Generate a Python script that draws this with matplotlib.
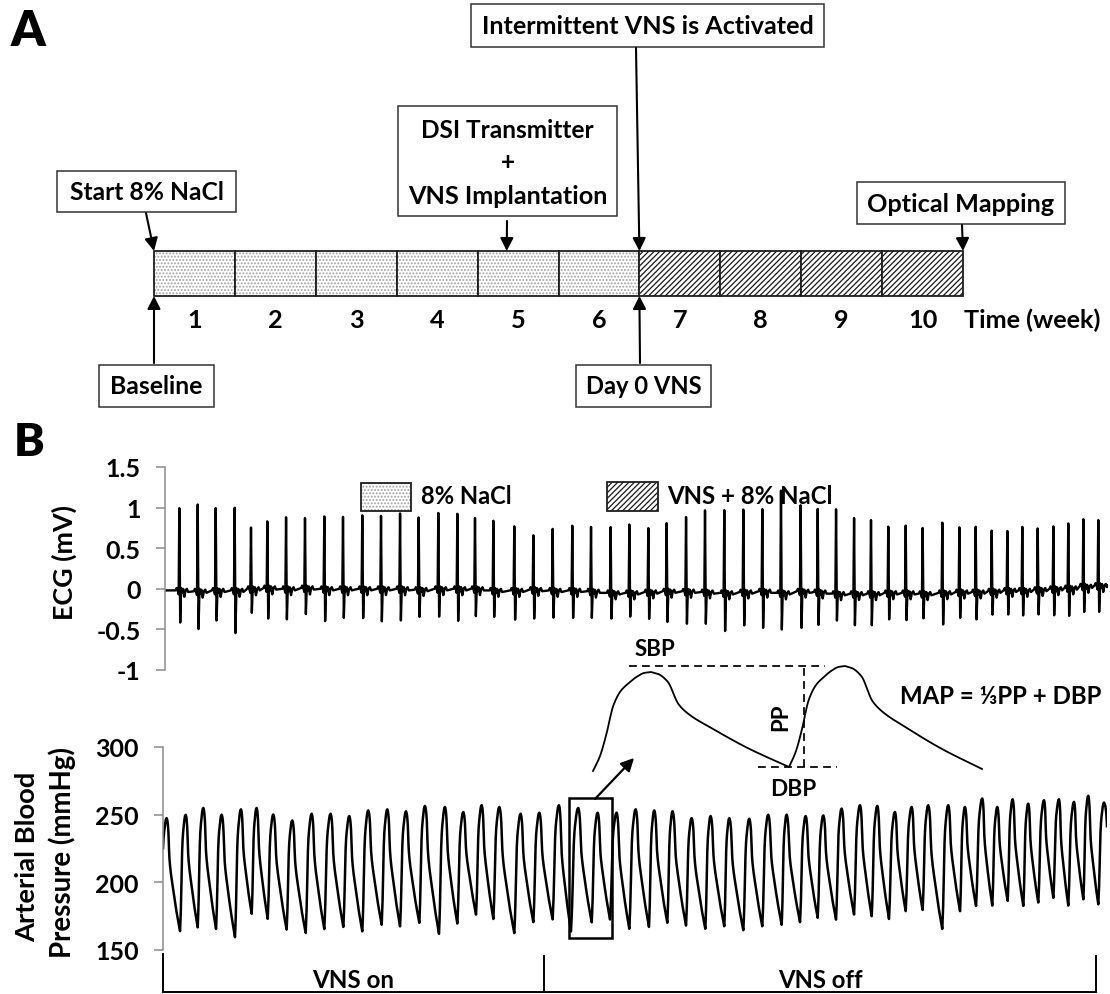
import numpy as np
import matplotlib
matplotlib.use("Agg")
import matplotlib.pyplot as plt
import matplotlib.transforms as mtransforms
from matplotlib.patches import Rectangle

plt.rcParams["font.family"] = ["Lato", "DejaVu Sans"]
plt.rcParams["font.weight"] = "bold"
plt.rcParams["axes.unicode_minus"] = False
plt.rcParams["hatch.linewidth"] = 0.9

# ====================== DATA ======================
# Panel A: study timeline
weeks = [1, 2, 3, 4, 5, 6, 7, 8, 9, 10]
week_treatment = ["8% NaCl"] * 6 + ["VNS + 8% NaCl"] * 4
treatments = ["8% NaCl", "VNS + 8% NaCl"]
events_top = ["Start 8% NaCl", "DSI Transmitter\n+\nVNS Implantation",
              "Intermittent VNS is Activated", "Optical Mapping"]
events_top_week = [0.0, 4.36, 6.0, 10.0]
events_bottom = ["Baseline", "Day 0 VNS"]
events_bottom_week = [0.0, 6.0]

# Panel B: ECG (R-wave time [s], R and S amplitudes [mV], local baseline [mV])
ecg_r_time = [0.139, 0.295, 0.448, 0.609, 0.748, 0.887, 1.046, 1.207, 1.371, 1.530,
              1.694, 1.853, 2.015, 2.173, 2.340, 2.502, 2.652, 2.808, 2.986, 3.148,
              3.312, 3.479, 3.638, 3.805, 3.964, 4.125, 4.281, 4.446, 4.607, 4.771,
              4.933, 5.094, 5.253, 5.420, 5.565, 5.721, 5.874, 6.018, 6.165, 6.313,
              6.457, 6.624, 6.769, 6.908, 7.044, 7.177, 7.304, 7.435, 7.568, 7.695,
              7.823, 7.950]
ecg_r_mv = [1.04, 1.05, 1.02, 1.04, 0.76, 0.87, 0.89, 0.89, 0.93, 0.89,
            0.93, 0.93, 0.93, 0.91, 0.96, 0.93, 0.91, 0.85, 0.78, 0.69,
            0.75, 0.79, 0.80, 0.77, 0.81, 0.78, 0.81, 0.91, 1.00, 0.97,
            1.01, 1.01, 1.22, 1.07, 1.00, 1.00, 0.91, 0.85, 0.80, 0.79,
            0.77, 0.85, 0.76, 0.80, 0.72, 0.74, 0.77, 0.77, 0.78, 0.83,
            0.87, 0.87]
ecg_s_mv = [-0.43, -0.50, -0.41, -0.56, -0.30, -0.38, -0.38, -0.33, -0.41, -0.36,
            -0.38, -0.41, -0.39, -0.36, -0.35, -0.40, -0.35, -0.35, -0.39, -0.38,
            -0.36, -0.37, -0.37, -0.37, -0.36, -0.38, -0.41, -0.45, -0.44, -0.52,
            -0.47, -0.49, -0.51, -0.50, -0.45, -0.41, -0.46, -0.45, -0.39, -0.39,
            -0.38, -0.45, -0.36, -0.39, -0.32, -0.33, -0.33, -0.33, -0.33, -0.35,
            -0.29, -0.30]
ecg_base_mv = [-0.02, -0.03, -0.02, -0.02, 0.00, 0.01, 0.00, 0.01, 0.00, 0.00,
               0.00, 0.00, 0.00, -0.01, 0.00, 0.00, 0.00, -0.02, -0.02, -0.01,
               -0.02, -0.02, -0.03, -0.05, -0.05, -0.04, -0.03, -0.03, -0.04, -0.05,
               -0.04, -0.03, -0.05, -0.03, -0.04, -0.06, -0.06, -0.06, -0.05, -0.05,
               -0.06, -0.05, -0.04, -0.04, -0.03, -0.02, -0.02, -0.01, 0.00, 0.01,
               0.03, 0.04]
ecg_ticks = [-1, -0.5, 0, 0.5, 1, 1.5]
ecg_tick_labels = ["-1", "-0.5", "0", "0.5", "1", "1.5"]

# Panel B: arterial blood pressure (diastolic troughs and systolic peaks)
bp_trough_time = [-0.020,
                  0.145, 0.295, 0.451, 0.612, 0.754, 0.890, 1.051, 1.213, 1.371, 1.533,
                  1.694, 1.859, 2.015, 2.179, 2.346, 2.502, 2.661, 2.808, 2.986, 3.148,
                  3.312, 3.468, 3.644, 3.800, 3.964, 4.131, 4.287, 4.446, 4.610, 4.771,
                  4.933, 5.094, 5.259, 5.415, 5.565, 5.721, 5.874, 6.024, 6.171, 6.313,
                  6.457, 6.624, 6.775, 6.911, 7.049, 7.180, 7.313, 7.440, 7.568, 7.695,
                  7.823, 7.950,
                  8.150]
bp_trough_mmhg = [168.0,
                  163.7, 166.7, 165.4, 159.4, 176.6, 172.9, 164.9, 162.4, 165.4, 166.9,
                  163.7, 168.6, 167.4, 169.9, 161.9, 169.4, 176.1, 172.9, 162.4, 170.4,
                  172.4, 163.7, 170.4, 172.4, 165.4, 166.9, 169.9, 167.9, 165.4, 167.4,
                  164.4, 167.4, 168.6, 170.4, 173.6, 172.4, 176.1, 174.9, 172.9, 178.6,
                  179.3, 165.4, 178.6, 182.3, 182.8, 186.1, 182.3, 184.8, 188.5, 182.8,
                  187.3, 183.6,
                  185.0]
bp_peak_time = [0.031, 0.193, 0.343, 0.499, 0.663, 0.796, 0.938, 1.099, 1.264, 1.425,
                1.584, 1.745, 1.907, 2.066, 2.227, 2.397, 2.553, 2.709, 2.859, 3.040,
                3.199, 3.366, 3.530, 3.695, 3.856, 4.018, 4.176, 4.332, 4.494, 4.655,
                4.814, 4.984, 5.145, 5.301, 5.463, 5.613, 5.769, 5.925, 6.072, 6.222,
                6.364, 6.505, 6.675, 6.817, 6.964, 7.092, 7.222, 7.355, 7.489, 7.616,
                7.744, 7.865, 7.999]
bp_peak_mmhg = [247.5, 250.0, 255.0, 250.0, 254.0, 255.0, 250.2, 245.8, 250.7, 250.7,
                249.0, 253.2, 254.0, 252.5, 256.5, 255.7, 252.0, 257.0, 255.7, 250.7,
                251.5, 257.0, 255.0, 251.5, 251.5, 254.0, 253.2, 252.5, 247.5, 249.0,
                247.5, 247.0, 250.0, 250.0, 249.0, 249.5, 254.5, 257.0, 256.5, 252.0,
                255.7, 257.0, 257.0, 255.7, 262.0, 255.7, 261.4, 258.2, 260.7, 261.4,
                259.5, 264.0, 259.0]
bp_ticks = [150, 200, 250, 300]
bp_tick_labels = ["150", "200", "250", "300"]
vns_phase_labels = ["VNS on", "VNS off"]
vns_phase_edges = [0.0, 3.24, 7.93]
zoom_window_time = [3.451, 3.817]
zoom_window_mmhg = [158.9, 262.3]

# Magnified schematic of two pulses (arbitrary units)
inset_trough_x = [0, 196, 389]
inset_trough_v = [8, 12, 10]
inset_peak_x = [58, 252]
inset_peak_v = [107, 113]

# Normalised pulse-shape template (rise and decay of one beat)
rise_u = [0.0, 0.12, 0.23, 0.35, 0.48, 0.62, 0.75, 0.88, 1.0]
rise_f = [0.0, 0.15, 0.37, 0.66, 0.81, 0.89, 0.95, 0.99, 1.0]
decay_w = [0.0, 0.05, 0.12, 0.20, 0.27, 0.45, 0.70, 1.0]
decay_f = [1.0, 0.98, 0.90, 0.66, 0.56, 0.40, 0.20, 0.0]
# ECG beat template (offset from R [s], offset from baseline [mV]; R and S inserted)
ecg_tpl_dt = [-0.032, -0.024, -0.014, -0.006, 0.015, 0.024, 0.032, 0.042, 0.052, 0.064, 0.074]
ecg_tpl_dv = [0.0, 0.03, 0.0, -0.05, 0.03, -0.03, 0.02, -0.08, 0.0, 0.02, -0.02]


# ====================== HELPERS ======================
def pchip(xk, yk, x):
    xk = np.asarray(xk, float)
    yk = np.asarray(yk, float)
    x = np.asarray(x, float)
    h = np.diff(xk)
    d = np.diff(yk) / h
    m = np.zeros_like(yk)
    for k in range(1, len(xk) - 1):
        if d[k - 1] * d[k] > 0:
            w1 = 2 * h[k] + h[k - 1]
            w2 = h[k] + 2 * h[k - 1]
            m[k] = (w1 + w2) / (w1 / d[k - 1] + w2 / d[k])
    m[0] = d[0]
    m[-1] = d[-1]
    idx = np.clip(np.searchsorted(xk, x) - 1, 0, len(h) - 1)
    t = (x - xk[idx]) / h[idx]
    h00 = 2 * t**3 - 3 * t**2 + 1
    h10 = t**3 - 2 * t**2 + t
    h01 = -2 * t**3 + 3 * t**2
    h11 = t**3 - t**2
    return (h00 * yk[idx] + h10 * h[idx] * m[idx] + h01 * yk[idx + 1]
            + h11 * h[idx] * m[idx + 1])


def pressure_wave(t, tr_t, tr_v, pk_t, pk_v):
    y = np.full_like(t, np.nan)
    for i in range(len(pk_t)):
        t0, tp, t1 = tr_t[i], pk_t[i], tr_t[i + 1]
        d0, s, d1 = tr_v[i], pk_v[i], tr_v[i + 1]
        m = (t >= t0) & (t < tp)
        y[m] = d0 + (s - d0) * pchip(rise_u, rise_f, (t[m] - t0) / (tp - t0))
        m = (t >= tp) & (t <= t1)
        y[m] = d1 + (s - d1) * pchip(decay_w, decay_f, (t[m] - tp) / (t1 - tp))
    return y


def ecg_wave(t, r_t, r_v, s_v, b_v):
    kt, kv = [t[0]], [b_v[0]]
    for rt, rv, sv, bv in zip(r_t, r_v, s_v, b_v):
        pts = list(zip(ecg_tpl_dt, [bv + dv for dv in ecg_tpl_dv]))
        pts += [(0.0, rv), (0.007, sv)]
        pts.sort()
        for dt, v in pts:
            kt.append(rt + dt)
            kv.append(v)
    kt.append(t[-1])
    kv.append(b_v[-1])
    return np.interp(t, kt, kv)


# ====================== FIGURE ======================
W, H = 1110, 995
fig = plt.figure(figsize=(W / 100, H / 100), dpi=100)


def box(x0, y0, x1, y1):
    return [x0 / W, 1 - y1 / H, (x1 - x0) / W, (y1 - y0) / H]


ov = fig.add_axes([0, 0, 1, 1], zorder=10)
ov.set_xlim(0, W)
ov.set_ylim(H, 0)
ov.axis("off")

fits = []


def label(x, y, s, target=None, vertical=False, ha="center", va="center",
          transform=None, weight="bold", **kw):
    t = ov.text(x, y, s, ha=ha, va=va, fontweight=weight, fontsize=16,
                rotation=90 if vertical else 0,
                transform=transform if transform is not None else ov.transData, **kw)
    if target:
        fits.append((t, target, vertical))
    return t


def treatment_patch(ax, xy, w, h, treat, **kw):
    if treat == treatments[0]:
        ax.add_patch(Rectangle(xy, w, h, facecolor="white", edgecolor="#a0a0a0",
                               hatch=".....", lw=0, clip_on=False, **kw))
    else:
        ax.add_patch(Rectangle(xy, w, h, facecolor="white", edgecolor="#1a1a1a",
                               hatch="//////", lw=0, clip_on=False, **kw))
    ax.add_patch(Rectangle(xy, w, h, fill=False, edgecolor="#1e1e1e", lw=1.3,
                           clip_on=False, **kw))


arrow_kw = dict(arrowstyle="-|>,head_length=0.55,head_width=0.28", color="black",
                lw=1.5, shrinkA=0, shrinkB=0, mutation_scale=14)

# ---------- Panel A ----------
label(28.5, 31, "A", target=35, weight="heavy")

tl = fig.add_axes(box(154, 252, 963, 297), zorder=5)
tl.set_xlim(0, 10)
tl.set_ylim(0, 1)
tl.axis("off")
for w, tr in zip(weeks, week_treatment):
    treatment_patch(tl, (w - 1, 0), 1, 1, tr)

wk_tr = mtransforms.blended_transform_factory(tl.transData, ov.transData)
week_texts = [label(w - 0.5, 320, str(w), transform=wk_tr) for w in weeks]
time_lbl = label(964, 320, "Time (week)", target=138, ha="left")

top_boxes = [(57, 172, 236, 213), (398, 107, 617, 217), (471, 5, 824, 48), (857, 183, 1065, 225)]
top_arrow_start = [(146, 214), (507, 222), (636, 49), (962, 226)]
top_text_w = [154, None, 333, 188]
for name, wk, bx, st, tw in zip(events_top, events_top_week, top_boxes, top_arrow_start, top_text_w):
    x0, y0, x1, y1 = bx
    ov.add_patch(Rectangle((x0, y0), x1 - x0, y1 - y0, facecolor="white",
                           edgecolor="#333333", lw=1.1))
    lines = name.split("\n")
    if len(lines) == 1:
        label((x0 + x1) / 2, (y0 + y1) / 2, name, target=tw)
    else:
        ys = [130, 163, 197]
        l1 = label((x0 + x1) / 2, ys[0], lines[0], target=173)
        l2 = label((x0 + x1) / 2, ys[1], lines[1])
        l3 = label((x0 + x1) / 2, ys[2], lines[2], target=200)
        plus_text, dsi_text = l2, l1
    ov.annotate("", xy=(wk, 1), xycoords=tl.transData, xytext=st,
                textcoords="data", arrowprops=arrow_kw)

bot_boxes = [(99, 366, 214, 408), (576, 366, 711, 408)]
bot_arrow_start = [(154, 364), (640, 364)]
bot_text_w = [93, 116]
for name, wk, bx, st, tw in zip(events_bottom, events_bottom_week, bot_boxes, bot_arrow_start, bot_text_w):
    x0, y0, x1, y1 = bx
    ov.add_patch(Rectangle((x0, y0), x1 - x0, y1 - y0, facecolor="white",
                           edgecolor="#333333", lw=1.1))
    label((x0 + x1) / 2, (y0 + y1) / 2, name, target=tw)
    ov.annotate("", xy=(wk, 0), xycoords=tl.transData, xytext=st,
                textcoords="data", arrowprops=arrow_kw)

# ---------- Panel B ----------
label(29.5, 443, "B", target=31, weight="heavy")

px = 0.0085  # seconds per pixel of trace
ecg = fig.add_axes(box(165, 468, 1108, 671), zorder=3)
bp = fig.add_axes(box(163, 748, 1107, 951), zorder=3)
ecg.set_xlim(2 * px, 945 * px)
bp.set_xlim(0, 944 * px)
ecg.set_ylim(-1, 1.5)
bp.set_ylim(150, 300)
ecg.set_yticks(ecg_ticks, labels=ecg_tick_labels)
bp.set_yticks(bp_ticks, labels=bp_tick_labels)
for ax in (ecg, bp):
    ax.set_facecolor("none")
    for s in ("top", "right", "bottom"):
        ax.spines[s].set_visible(False)
    ax.spines["left"].set_color("#8c8c8c")
    ax.spines["left"].set_linewidth(1.1)
    ax.set_xticks([])
    ax.tick_params(axis="y", direction="out", length=6.5, width=1.1, color="#8c8c8c",
                   labelsize=18, pad=11, labelcolor="black")
    for tlb in ax.get_yticklabels():
        tlb.set_fontweight("bold")

t_ecg = np.linspace(2 * px, 945 * px, 16000)
ecg.plot(t_ecg, ecg_wave(t_ecg, ecg_r_time, ecg_r_mv, ecg_s_mv, ecg_base_mv),
         color="black", lw=1.7, solid_joinstyle="round")

t_bp = np.linspace(0, 944 * px, 12000)
bp.plot(t_bp, pressure_wave(t_bp, bp_trough_time, bp_trough_mmhg, bp_peak_time, bp_peak_mmhg),
        color="black", lw=1.8, solid_joinstyle="round")

# zoom window on BP trace
bp.add_patch(Rectangle((zoom_window_time[0], zoom_window_mmhg[0]),
                       zoom_window_time[1] - zoom_window_time[0],
                       zoom_window_mmhg[1] - zoom_window_mmhg[0],
                       fill=False, edgecolor="black", lw=1.8, clip_on=False, zorder=4))

# VNS on/off brackets under BP trace
btr = mtransforms.blended_transform_factory(bp.transData, bp.transAxes)
ylo = -0.207
bp.plot([vns_phase_edges[0], vns_phase_edges[-1]], [ylo, ylo], transform=btr,
        color="black", lw=1.4, clip_on=False, solid_capstyle="butt")
for i, e in enumerate(vns_phase_edges):
    bp.plot([e, e], [ylo, -0.02 if i == 0 else -0.03], transform=btr,
            color="black", lw=1.4, clip_on=False)
phase_w = [82, 85]
for i, name in enumerate(vns_phase_labels):
    mid = 0.5 * (vns_phase_edges[i] + vns_phase_edges[i + 1])
    label(mid, -0.143, name, target=phase_w[i], transform=btr)

# axis titles
label(64, 562, "ECG (mV)", target=115, vertical=True)
label(27, 857, "Arterial Blood", target=171, vertical=True)
label(62, 853, "Pressure (mmHg)", target=212, vertical=True)

# legend
leg_boxes = [(361, 484, 411, 512), (607, 483, 658, 512)]
leg_text_x = [421, 667]
leg_text_w = [91, 166]
for tr, bx, tx, tw in zip(treatments, leg_boxes, leg_text_x, leg_text_w):
    x0, y0, x1, y1 = bx
    treatment_patch(ov, (x0, y0), x1 - x0, y1 - y0, tr)
    label(tx, (y0 + y1) / 2 - 1, tr, target=tw, ha="left")

# magnified pulses
ins = fig.add_axes(box(580, 655, 1000, 785), zorder=6)
ins.set_xlim(-13, 407)
ins.set_ylim(-5, 125)
ins.axis("off")
xi = np.linspace(inset_trough_x[0], inset_trough_x[-1], 3000)
ins.plot(xi, pressure_wave(xi, inset_trough_x, inset_trough_v, inset_peak_x, inset_peak_v),
         color="black", lw=1.3)
dash = (0, (4.5, 3))
ins.plot([36, 232], [inset_peak_v[1], inset_peak_v[1]], color="black", lw=1.25, ls=dash)
ins.plot([165, 244], [inset_trough_v[1], inset_trough_v[1]], color="black", lw=1.25, ls=dash)
ins.plot([211, 211], [inset_trough_v[1], inset_peak_v[1]], color="black", lw=1.25, ls=dash)

sbp_text = label(655, 650, "SBP", target=41)
pp_text = label(781, 717, "PP", vertical=True)
label(793, 789, "DBP", target=46)
label(900, 697, "MAP = \u2153PP + DBP", target=202, ha="left")

ov.annotate("", xy=(634, 759), xytext=(595, 800), textcoords="data",
            arrowprops=dict(arrowstyle="-|>,head_length=0.55,head_width=0.28",
                            color="black", lw=1.6, shrinkA=0, shrinkB=0, mutation_scale=14))

# ---------- fit text widths ----------
r = fig.canvas.get_renderer()
for t, target, vert in fits:
    bb = t.get_window_extent(renderer=r)
    cur = bb.height if vert else bb.width
    t.set_fontsize(t.get_fontsize() * target / cur)
plus_text.set_fontsize(dsi_text.get_fontsize())
pp_text.set_fontsize(sbp_text.get_fontsize())
for wt in week_texts:
    wt.set_fontsize(time_lbl.get_fontsize())

fig.savefig("out.png", dpi=100)
